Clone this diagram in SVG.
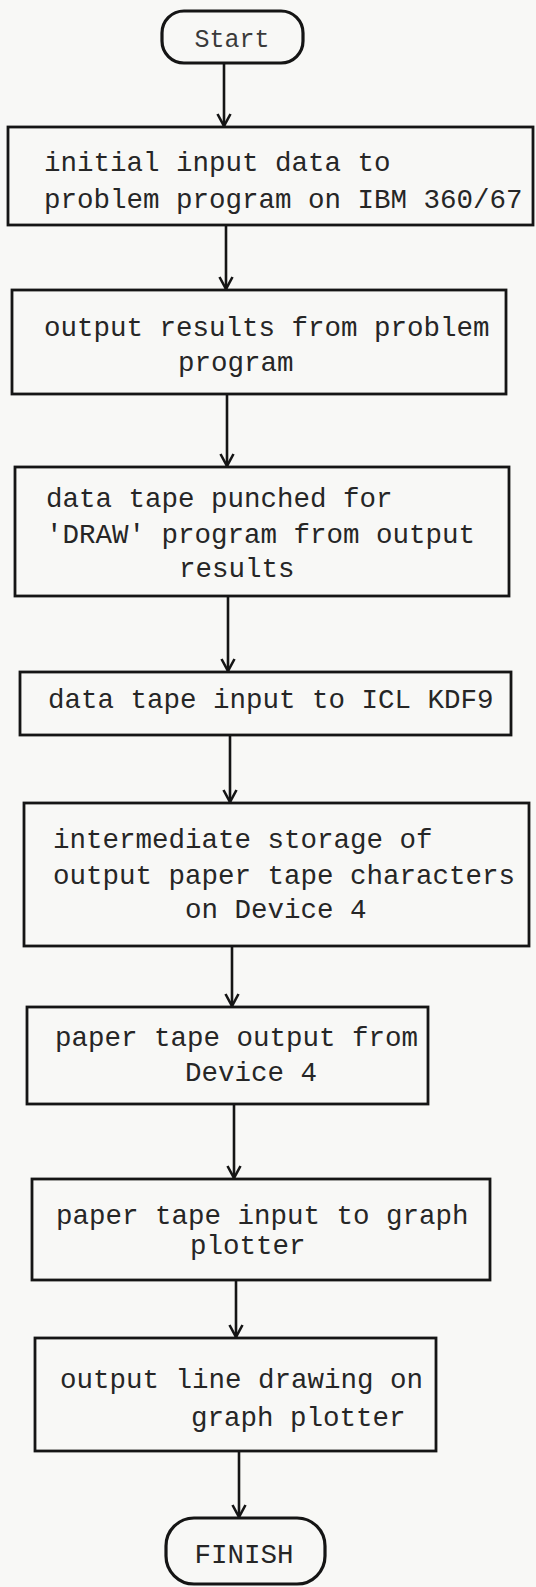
<svg xmlns="http://www.w3.org/2000/svg" width="536" height="1587" viewBox="0 0 536 1587">
  <style>
    .box { fill: none; stroke: #151515; stroke-width: 2.8; }
    .term { fill: none; stroke: #151515; stroke-width: 3.2; }
    .lbl { font-family: "Liberation Mono", "Courier New", monospace; font-size: 27.5px; fill: #262626; }
    .tlbl { font-family: "Liberation Mono", "Courier New", monospace; font-size: 25px; fill: #3a3a3a; }
    .flow { fill: none; stroke: #151515; stroke-width: 2.6; }
  </style>
  <defs>
    <marker id="arrow" markerUnits="userSpaceOnUse" markerWidth="16" markerHeight="16" refX="14" refY="8" orient="auto" viewBox="0 0 16 16">
      <path d="M2,1.5 L14,8 L2,14.5" fill="none" stroke="#151515" stroke-width="2.6"/>
    </marker>
  </defs>
  <rect width="536" height="1587" fill="#f8f8f6"/>

  <!-- connectors -->
  <g id="connectors">
    <line class="flow" x1="224" y1="63" x2="224" y2="126" marker-end="url(#arrow)"/>
    <line class="flow" x1="226" y1="225" x2="226" y2="289" marker-end="url(#arrow)"/>
    <line class="flow" x1="227" y1="394" x2="227" y2="466" marker-end="url(#arrow)"/>
    <line class="flow" x1="228" y1="596" x2="228" y2="671" marker-end="url(#arrow)"/>
    <line class="flow" x1="230" y1="735" x2="230" y2="802" marker-end="url(#arrow)"/>
    <line class="flow" x1="232" y1="946" x2="232" y2="1006" marker-end="url(#arrow)"/>
    <line class="flow" x1="234" y1="1104" x2="234" y2="1178" marker-end="url(#arrow)"/>
    <line class="flow" x1="236" y1="1280" x2="236" y2="1337" marker-end="url(#arrow)"/>
    <line class="flow" x1="239" y1="1451" x2="239" y2="1517" marker-end="url(#arrow)"/>
  </g>

  <!-- terminal: start -->
  <g id="start">
    <rect class="term" x="162" y="11" width="141" height="52" rx="22" ry="22"/>
    <text class="tlbl" x="232" y="47" text-anchor="middle">Start</text>
  </g>

  <g id="step1">
    <rect class="box" x="8" y="127" width="525" height="98"/>
    <text class="lbl" x="44" y="171">initial input data to</text>
    <text class="lbl" x="44" y="208">problem program on IBM 360/67</text>
  </g>

  <g id="step2">
    <rect class="box" x="12" y="290" width="494" height="104"/>
    <text class="lbl" x="44" y="336">output results from problem</text>
    <text class="lbl" x="178" y="371">program</text>
  </g>

  <g id="step3">
    <rect class="box" x="15" y="467" width="494" height="129"/>
    <text class="lbl" x="46" y="507">data tape punched for</text>
    <text class="lbl" x="46" y="543">'DRAW' program from output</text>
    <text class="lbl" x="179" y="577">results</text>
  </g>

  <g id="step4">
    <rect class="box" x="20" y="672" width="491" height="63"/>
    <text class="lbl" x="48" y="708">data tape input to ICL KDF9</text>
  </g>

  <g id="step5">
    <rect class="box" x="24" y="803" width="505" height="143"/>
    <text class="lbl" x="53" y="848">intermediate storage of</text>
    <text class="lbl" x="53" y="884">output paper tape characters</text>
    <text class="lbl" x="185" y="918">on Device 4</text>
  </g>

  <g id="step6">
    <rect class="box" x="27" y="1007" width="401" height="97"/>
    <text class="lbl" x="55" y="1046">paper tape output from</text>
    <text class="lbl" x="185" y="1081">Device 4</text>
  </g>

  <g id="step7">
    <rect class="box" x="32" y="1179" width="458" height="101"/>
    <text class="lbl" x="56" y="1224">paper tape input to graph</text>
    <text class="lbl" x="190" y="1254">plotter</text>
  </g>

  <g id="step8">
    <rect class="box" x="35" y="1338" width="401" height="113"/>
    <text class="lbl" x="60" y="1388">output line drawing on</text>
    <text class="lbl" x="191" y="1426">graph plotter</text>
  </g>

  <!-- terminal: finish -->
  <g id="finish">
    <rect class="term" x="166" y="1518" width="159" height="66" rx="28" ry="28"/>
    <text class="lbl" x="244" y="1563" text-anchor="middle">FINISH</text>
  </g>
</svg>
